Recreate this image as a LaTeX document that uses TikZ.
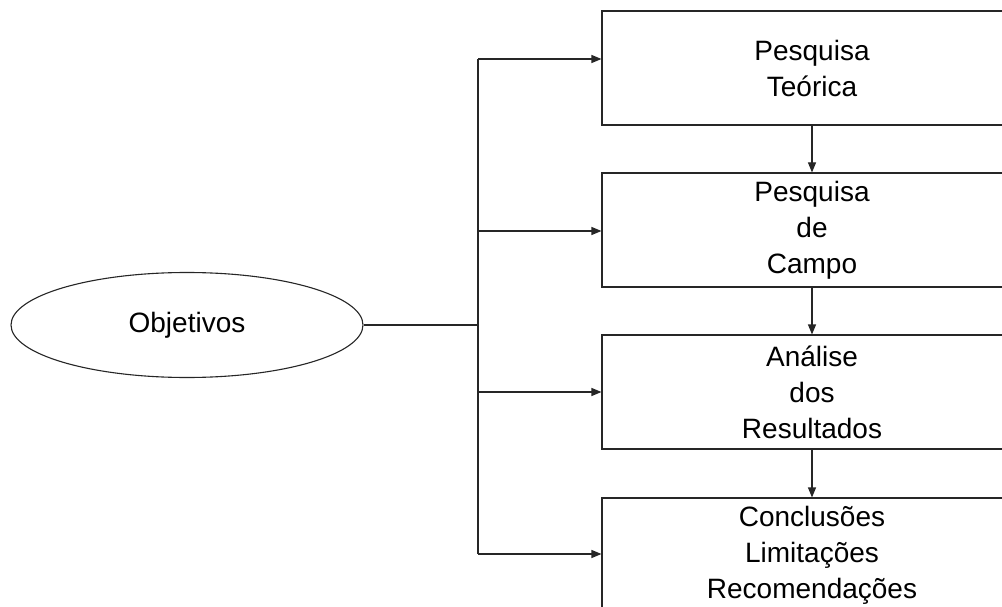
\documentclass[tikz,border=0pt]{standalone}
\usepackage{fontspec}
\setmainfont{Liberation Sans}
\usetikzlibrary{shapes.geometric,arrows.meta}
\begin{document}
\begin{tikzpicture}[x=1pt,y=-1pt,
  ln/.style={draw=black!85,line width=1.1pt},
  arr/.style={ln,-{Triangle[length=10pt,width=8pt]}},
  stepbox/.style={ln,rectangle,minimum width=420pt,minimum height=114pt,inner sep=0pt,
    align=center,font=\fontsize{28}{36}\selectfont},
  goal/.style={ln,ellipse,minimum width=352pt,minimum height=105pt,inner sep=0pt,
    font=\fontsize{28}{36}\selectfont}]
\useasboundingbox (0,0) rectangle (1002,607);
\fill[white] (0,0) rectangle (1002,607);

% objective and the four stages
\node[goal] (obj) at (187,325) {Objetivos};
\node[stepbox] (b1) at (812,68)  {Pesquisa\\ Teórica};
\node[stepbox] (b2) at (812,230) {Pesquisa\\ de\\ Campo};
\node[stepbox] (b3) at (812,392) {Análise\\ dos\\ Resultados};
\node[stepbox] (b4) at (812,555) {Conclusões\\ Limitações\\ Recomendações};

% branching trunk
\coordinate (j)  at (478,325);
\coordinate (t1) at (478,59);
\coordinate (t2) at (478,231);
\coordinate (t3) at (478,392);
\coordinate (t4) at (478,554);

\draw[ln] (obj.east) -- (j);
\draw[ln] (t1) -- (t4);
\draw[arr] (t1) -- (b1.west |- t1);
\draw[arr] (t2) -- (b2.west |- t2);
\draw[arr] (t3) -- (b3.west |- t3);
\draw[arr] (t4) -- (b4.west |- t4);

% sequence between stages
\draw[arr] (b1.south) -- (b2.north);
\draw[arr] (b2.south) -- (b3.north);
\draw[arr] (b3.south) -- (b4.north);
\end{tikzpicture}
\end{document}
